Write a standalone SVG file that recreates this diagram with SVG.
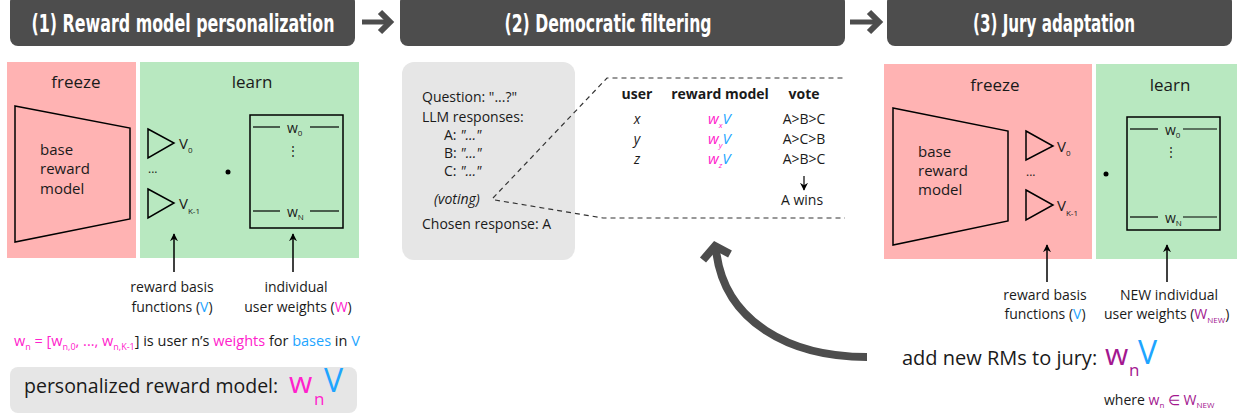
<svg xmlns="http://www.w3.org/2000/svg" width="1246" height="417" viewBox="0 0 1246 417">
<style>
.hdr{fill:#4d4d4d}
.htxt{font-family:"Liberation Sans Narrow","DejaVu Sans Condensed","Liberation Sans",sans-serif;font-stretch:condensed;font-weight:bold;font-size:25px;fill:#ffffff;text-anchor:middle}
.t{font-family:"Open Sans","Noto Sans",sans-serif;fill:#1a1a1a}
.freeze{fill:#ffb3b3}
.learn{fill:#b8e8c0}
.outline{fill:none;stroke:#000;stroke-width:1.5}
.mg{fill:#ff22cc}
.bl{fill:#1ea5ff}
.pu{fill:#a3178f}
.gbox{fill:#e6e6e6}
.dash{fill:none;stroke:#333;stroke-width:1.2;stroke-dasharray:5,4}
.arr{stroke:#000;stroke-width:1.5;fill:none}
.harr{stroke:#4d4d4d;fill:none}
</style>
<defs>
<marker id="ah" viewBox="0 0 10 10" refX="9" refY="5" markerWidth="8" markerHeight="8" orient="auto-start-reverse" markerUnits="userSpaceOnUse">
<path d="M0,0 L10,5 L0,10 L3,5 z" fill="#000"/>
</marker>
</defs>

<!-- headers -->
<g id="header1"><rect class="hdr" x="10" y="-6" width="345" height="52" rx="8"/><text class="htxt" x="183" y="32" textLength="303" lengthAdjust="spacingAndGlyphs">(1) Reward model personalization</text></g>
<g id="header2"><rect class="hdr" x="400" y="-6" width="445" height="52" rx="8"/><text class="htxt" x="608" y="32" textLength="207" lengthAdjust="spacingAndGlyphs">(2) Democratic filtering</text></g>
<g id="header3"><rect class="hdr" x="887" y="-6" width="345" height="52" rx="8"/><text class="htxt" x="1054" y="32" textLength="162" lengthAdjust="spacingAndGlyphs">(3) Jury adaptation</text></g>

<!-- panel 1 -->
<g id="freeze1">
<rect class="freeze" x="7" y="62" width="129" height="196"/>
<text class="t" x="76" y="88" font-size="17" text-anchor="middle">freeze</text>
<polygon class="outline" points="15,106 130,128 130,219 15,242"/>
<text class="t" x="40" y="155" font-size="15">base</text>
<text class="t" x="40" y="174" font-size="15">reward</text>
<text class="t" x="40" y="194" font-size="15">model</text>
</g>
<g id="learn1">
<rect class="learn" x="140" y="62" width="219" height="196"/>
<text class="t" x="252" y="88" font-size="17" text-anchor="middle">learn</text>
<polygon class="outline" points="148,129 174,143 148,158"/>
<text class="t" x="179" y="149" font-size="15">V<tspan font-size="8" dy="4">0</tspan></text>
<text class="t" x="148" y="173" font-size="12">...</text>
<polygon class="outline" points="148,189 174,203 148,218"/>
<text class="t" x="179" y="209" font-size="15">V<tspan font-size="8" dy="5">K-1</tspan></text>
<circle cx="228" cy="172" r="2.5" fill="#000"/>
<rect class="outline" x="250" y="115" width="93" height="113"/>
<line x1="253" y1="127" x2="280" y2="127" stroke="#000" stroke-width="1.2"/>
<line x1="310" y1="127" x2="339" y2="127" stroke="#000" stroke-width="1.2"/>
<text class="t" x="287" y="133" font-size="14">w<tspan font-size="8" dy="3">0</tspan></text>
<text class="t" x="293" y="155" font-size="12" text-anchor="middle">⋮</text>
<line x1="253" y1="211" x2="280" y2="211" stroke="#000" stroke-width="1.2"/>
<line x1="310" y1="211" x2="339" y2="211" stroke="#000" stroke-width="1.2"/>
<text class="t" x="287" y="217" font-size="14">w<tspan font-size="8" dy="3">N</tspan></text>
</g>
<g id="labels1">
<text class="t" x="172" y="292" font-size="14" text-anchor="middle">reward basis</text>
<text class="t" x="172" y="312" font-size="14" text-anchor="middle">functions (<tspan class="bl">V</tspan>)</text>
<text class="t" x="296" y="292" font-size="14" text-anchor="middle">individual</text>
<text class="t" x="298" y="312" font-size="14" text-anchor="middle">user weights (<tspan class="mg">W</tspan>)</text>
<text class="t" x="14" y="346" font-size="14.5"><tspan class="mg">w</tspan><tspan class="mg" font-size="9" dy="4">n</tspan><tspan class="mg" dy="-4"> = [w</tspan><tspan class="mg" font-size="9" dy="4">n,0</tspan><tspan class="mg" dy="-4">, ..., w</tspan><tspan class="mg" font-size="9" dy="4">n,K-1</tspan><tspan dy="-4">] is user n’s </tspan><tspan class="mg">weights</tspan> for <tspan class="bl">bases</tspan> in <tspan class="bl">V</tspan></text>
</g>
<g id="personalized">
<rect class="gbox" x="10" y="367" width="347" height="46" rx="8"/>
<text class="t" x="24" y="393" font-size="19.5">personalized reward model:</text>
<text class="t mg" x="289" y="393" font-size="30">w</text>
<text class="t mg" x="314" y="405" font-size="17">n</text>
<text class="t bl" x="324" y="392" font-size="32">V</text>
</g>

<!-- panel 2 -->
<g id="question">
<rect class="gbox" x="402" y="62" width="173" height="198" rx="12"/>
<text class="t" x="422" y="102" font-size="14">Question: "...?"</text>
<text class="t" x="422" y="122" font-size="14">LLM responses:</text>
<text class="t" x="444" y="140" font-size="14">A: <tspan font-style="italic">"..."</tspan></text>
<text class="t" x="444" y="158" font-size="14">B: <tspan font-style="italic">"..."</tspan></text>
<text class="t" x="444" y="176" font-size="14">C: <tspan font-style="italic">"..."</tspan></text>
<text class="t" x="434" y="204" font-size="14" font-style="italic">(voting)</text>
<text class="t" x="422" y="229" font-size="14">Chosen response: A</text>
</g>
<g id="votetable">
<text class="t" x="637" y="99" font-size="14" font-weight="bold" text-anchor="middle">user</text>
<text class="t" x="720" y="99" font-size="14" font-weight="bold" text-anchor="middle">reward model</text>
<text class="t" x="804" y="99" font-size="14" font-weight="bold" text-anchor="middle">vote</text>
<text class="t" x="637" y="124" font-size="14" font-style="italic" text-anchor="middle">x</text>
<text class="t" x="637" y="144" font-size="14" font-style="italic" text-anchor="middle">y</text>
<text class="t" x="637" y="164" font-size="14" font-style="italic" text-anchor="middle">z</text>
<text class="t" x="708" y="124" font-size="15" font-style="italic"><tspan class="mg">w</tspan><tspan class="mg" font-size="8" dy="4">x</tspan><tspan class="bl" dy="-4">V</tspan></text>
<text class="t" x="708" y="144" font-size="15" font-style="italic"><tspan class="mg">w</tspan><tspan class="mg" font-size="8" dy="4">y</tspan><tspan class="bl" dy="-4">V</tspan></text>
<text class="t" x="708" y="164" font-size="15" font-style="italic"><tspan class="mg">w</tspan><tspan class="mg" font-size="8" dy="4">z</tspan><tspan class="bl" dy="-4">V</tspan></text>
<text class="t" x="804" y="124" font-size="14" text-anchor="middle">A&gt;B&gt;C</text>
<text class="t" x="804" y="144" font-size="14" text-anchor="middle">A&gt;C&gt;B</text>
<text class="t" x="804" y="164" font-size="14" text-anchor="middle">A&gt;B&gt;C</text>
<text class="t" x="802" y="205" font-size="14" text-anchor="middle">A wins</text>
</g>

<!-- panel 3 -->
<g id="freeze3">
<rect class="freeze" x="884" y="64" width="208" height="195"/>
<text class="t" x="995" y="91" font-size="17" text-anchor="middle">freeze</text>
<polygon class="outline" points="893,108 1008,131 1008,221 893,245"/>
<text class="t" x="918" y="157" font-size="15">base</text>
<text class="t" x="918" y="176" font-size="15">reward</text>
<text class="t" x="918" y="195" font-size="15">model</text>
<polygon class="outline" points="1026,131 1053,146 1026,160"/>
<text class="t" x="1057" y="152" font-size="15">V<tspan font-size="8" dy="4">0</tspan></text>
<text class="t" x="1026" y="176" font-size="12">...</text>
<polygon class="outline" points="1026,190 1053,205 1026,220"/>
<text class="t" x="1057" y="211" font-size="15">V<tspan font-size="8" dy="5">K-1</tspan></text>
</g>
<g id="learn3">
<rect class="learn" x="1096" y="64" width="141" height="195"/>
<text class="t" x="1170" y="91" font-size="17" text-anchor="middle">learn</text>
<circle cx="1106" cy="174" r="2.5" fill="#000"/>
<rect class="outline" x="1127" y="117" width="93" height="113"/>
<line x1="1130" y1="129" x2="1158" y2="129" stroke="#000" stroke-width="1.2"/>
<line x1="1183" y1="129" x2="1217" y2="129" stroke="#000" stroke-width="1.2"/>
<text class="t" x="1165" y="135" font-size="14">w<tspan font-size="8" dy="3">0</tspan></text>
<text class="t" x="1171" y="156" font-size="12" text-anchor="middle">⋮</text>
<line x1="1130" y1="217" x2="1158" y2="217" stroke="#000" stroke-width="1.2"/>
<line x1="1183" y1="217" x2="1217" y2="217" stroke="#000" stroke-width="1.2"/>
<text class="t" x="1165" y="223" font-size="14">w<tspan font-size="8" dy="3">N</tspan></text>
</g>
<g id="labels3">
<text class="t" x="1045" y="300" font-size="14" text-anchor="middle">reward basis</text>
<text class="t" x="1045" y="319" font-size="14" text-anchor="middle">functions (<tspan class="bl">V</tspan>)</text>
<text class="t" x="1169" y="300" font-size="14" text-anchor="middle">NEW individual</text>
<text class="t" x="1104" y="319" font-size="14">user weights (<tspan class="pu">W</tspan><tspan class="pu" font-size="8" dy="4">NEW</tspan><tspan dy="-4">)</tspan></text>
</g>
<g id="jury">
<text class="t" x="902" y="365" font-size="20">add new RMs to jury:</text>
<text class="t pu" x="1105" y="365" font-size="30">w</text>
<text class="t pu" x="1129" y="376" font-size="17">n</text>
<text class="t bl" x="1138" y="364" font-size="32">V</text>
<text class="t" x="1104" y="405" font-size="14">where <tspan class="pu">w</tspan><tspan class="pu" font-size="8" dy="3">n</tspan><tspan class="pu" dy="-3"> ∈ W</tspan><tspan class="pu" font-size="8" dy="3">NEW</tspan></text>
</g>

<g id="connectors">
<path class="harr" d="M362,22 H388" stroke-width="5"/>
<path class="harr" d="M380,12 L390,22 L380,32" stroke-width="6"/>
<path class="harr" d="M850,22 H877" stroke-width="5"/>
<path class="harr" d="M869,12 L879,22 L869,32" stroke-width="6"/>
<line class="arr" x1="174" y1="272" x2="174" y2="234" marker-end="url(#ah)"/>
<line class="arr" x1="293" y1="272" x2="293" y2="234" marker-end="url(#ah)"/>
<line class="arr" x1="1047" y1="282" x2="1047" y2="245" marker-end="url(#ah)"/>
<line class="arr" x1="1167" y1="282" x2="1167" y2="245" marker-end="url(#ah)"/>
<path class="dash" d="M493,198 L607,78 H845"/>
<path class="dash" d="M495,200 L603,218 H845"/>
<line x1="804" y1="176" x2="804" y2="190" stroke="#000" stroke-width="1.2" marker-end="url(#ah)"/>
<path d="M867,357 C790,357 724,322 716,250" fill="none" stroke="#4d4d4d" stroke-width="8"/>
<path d="M703,260 L715,246 L730,254" fill="none" stroke="#4d4d4d" stroke-width="8" stroke-linejoin="miter"/>
</g>
</svg>
